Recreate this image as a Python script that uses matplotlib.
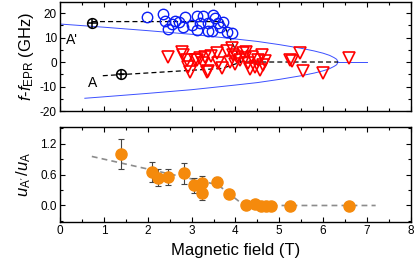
import matplotlib
matplotlib.use("Agg")
import matplotlib.pyplot as plt
from matplotlib.ticker import MultipleLocator

plt.rcParams["font.family"] = ["Liberation Sans", "DejaVu Sans"]
plt.rcParams["mathtext.fontset"] = "custom"
plt.rcParams["mathtext.rm"] = "Liberation Sans"
plt.rcParams["mathtext.it"] = "Liberation Sans:italic"
plt.rcParams["axes.unicode_minus"] = False

# --- top panel: spectroscopy (GHz) ---
circ_x = [1.97, 2.35, 2.39, 2.47, 2.62, 2.81, 2.85, 2.70, 3.11, 3.11, 3.19, 3.26,
          3.38, 3.38, 3.46, 3.49, 3.53, 3.60, 3.65, 3.72, 3.80, 3.91, 3.00, 2.55]
circ_y = [18.2, 19.6, 16.9, 13.3, 16.9, 14.4, 18.2, 16.5, 18.8, 13.1, 15.8, 18.8,
          15.8, 12.8, 12.8, 19.2, 17.8, 16.0, 14.4, 16.4, 12.4, 11.7, 15.0, 15.5]

tri_x = [2.47, 2.77, 2.81, 2.89, 2.92, 2.96, 3.08, 3.19, 3.30, 3.34, 3.11, 3.26,
         3.38, 3.57, 3.61, 3.70, 3.87, 3.91, 3.95, 4.03, 4.10, 4.18, 4.22, 4.29,
         4.33, 4.37, 4.45, 4.52, 4.60, 4.63, 4.68, 4.55, 4.00, 4.25, 5.24, 5.28,
         5.47, 5.55, 6.00, 6.60, 3.45, 3.80]
tri_y = [2.2, 4.2, 2.9, 0.8, -1.9, -4.0, 0.8, 1.5, 2.2, -4.0, 0.8, -0.5,
         -3.6, 3.5, -0.5, -2.6, 0.1, 5.6, 3.0, 2.2, 0.8, 3.5, 1.5, -0.5,
         -2.8, 2.2, -1.9, 0.8, 2.9, -1.2, 0.5, -3.2, -1.0, 4.2, 0.8, 0.5,
         3.5, -3.6, -4.4, 1.5, 2.5, 4.5]

theo_up_x = [0.0, 1.0, 2.0, 3.0, 4.0, 4.5, 5.0, 5.5, 5.8, 6.0, 6.15, 6.25, 6.31, 6.34]
theo_up_y = [15.5, 14.2, 12.8, 11.3, 9.4, 8.4, 7.1, 5.6, 4.5, 3.6, 2.7, 1.8, 1.1, 0.0]
theo_lo_x = [0.56, 1.0, 2.0, 3.0, 4.0, 4.5, 5.0, 5.5, 5.8, 6.0, 6.15, 6.25, 6.31, 6.34]
theo_lo_y = [-14.8, -14.2, -12.8, -11.3, -9.4, -8.4, -7.1, -5.6, -4.5, -3.6, -2.7, -1.8, -1.1, 0.0]
tail_x = [6.34, 7.0]
tail_y = [0.0, 0.0]

guide_up_x = [0.72, 3.70, 4.13, 6.34]
guide_up_y = [16.5, 16.5, 0.0, 0.0]
guide_lo_x = [0.97, 3.70, 4.13]
guide_lo_y = [-5.6, -2.6, 0.0]

ref_x = [0.72, 1.38]
ref_y = [15.8, -4.9]

# --- bottom panel: amplitude ratio ---
ratio_x = [1.38, 2.09, 2.24, 2.47, 2.83, 3.06, 3.23, 3.23, 3.58, 3.86,
           4.23, 4.44, 4.58, 4.69, 4.81, 5.24, 6.60]
ratio_y = [1.00, 0.65, 0.54, 0.55, 0.62, 0.39, 0.44, 0.24, 0.46, 0.22,
           0.00, 0.02, -0.01, -0.01, -0.01, -0.01, -0.01]
ratio_err = [0.29, 0.19, 0.16, 0.15, 0.21, 0.14, 0.14, 0.14, 0.10, 0.05,
             0.06, 0.06, 0.05, 0.04, 0.05, 0.04, 0.04]
trend_x = [0.72, 3.60, 4.20, 7.20]
trend_y = [0.95, 0.40, 0.00, 0.00]

fig = plt.figure(figsize=(4.15, 2.66), dpi=100)
ax1 = fig.add_axes([0.1453, 0.5827, 0.8443, 0.4098])
ax2 = fig.add_axes([0.1453, 0.1654, 0.8443, 0.3571])

blue = "#0b1ef5"
red = "#ff0000"
orange = "#f58a0c"

ax1.plot(theo_up_x, theo_up_y, color="#3c50ff", lw=0.7)
ax1.plot(theo_lo_x, theo_lo_y, color="#3c50ff", lw=0.7)
ax1.plot(tail_x, tail_y, color="#3c50ff", lw=0.7)
ax1.plot(guide_up_x, guide_up_y, color="black", lw=0.9, ls=(0, (4, 2.5)))
ax1.plot(guide_lo_x, guide_lo_y, color="black", lw=0.9, ls=(0, (4, 2.5)))
ax1.plot(circ_x, circ_y, ls="none", marker="o", ms=7.5, mfc="none", mec=blue, mew=1.0)
ax1.plot(tri_x, tri_y, ls="none", marker="v", ms=8, mfc="none", mec=red, mew=1.2)
ax1.plot(ref_x, ref_y, ls="none", marker="o", ms=7, mfc="none", mec="black", mew=1.1)
ax1.plot(ref_x, ref_y, ls="none", marker="+", ms=7, mec="black", mew=1.1)
ax1.text(0.27, 9.0, "A'", fontsize=10, ha="center", va="center")
ax1.text(0.74, -8.7, "A", fontsize=10, ha="center", va="center")

ax1.set_xlim(0, 8)
ax1.set_ylim(-20, 24.5)
ax1.set_yticks([-20, -10, 0, 10, 20])
ax1.yaxis.set_minor_locator(MultipleLocator(5))
ax1.set_ylabel(r"$f$-$f_{\mathrm{EPR}}$ (GHz)", fontsize=12, labelpad=3)
ax1.tick_params(labelbottom=False)

ax2.plot(trend_x, trend_y, color="#8c8c8c", lw=1.2, ls=(0, (3.5, 2.5)))
ax2.errorbar(ratio_x, ratio_y, yerr=ratio_err, fmt="o", ms=8, color=orange,
             mec=orange, ecolor="#444444", elinewidth=0.8, capsize=2, capthick=0.8)
ax2.set_xlim(0, 8)
ax2.set_ylim(-0.32, 1.52)
ax2.set_yticks([0.0, 0.6, 1.2])
ax2.yaxis.set_major_formatter(plt.FormatStrFormatter("%.1f"))
ax2.yaxis.set_minor_locator(MultipleLocator(0.3))
ax2.set_ylabel(r"$u_{\mathrm{A'}}\,/u_{\mathrm{A}}$", fontsize=12, labelpad=5)
ax2.set_xlabel("Magnetic field (T)", fontsize=12, labelpad=4)

for ax in (ax1, ax2):
    ax.xaxis.set_major_locator(MultipleLocator(1))
    ax.xaxis.set_minor_locator(MultipleLocator(0.5))
    ax.tick_params(which="both", direction="in", top=True, right=True,
                   labelsize=8.5, width=0.8, pad=2.5)
    ax.tick_params(which="major", length=3.5)
    ax.tick_params(which="minor", length=2)
    for s in ax.spines.values():
        s.set_linewidth(1.0)

fig.savefig("out.png", dpi=100)
